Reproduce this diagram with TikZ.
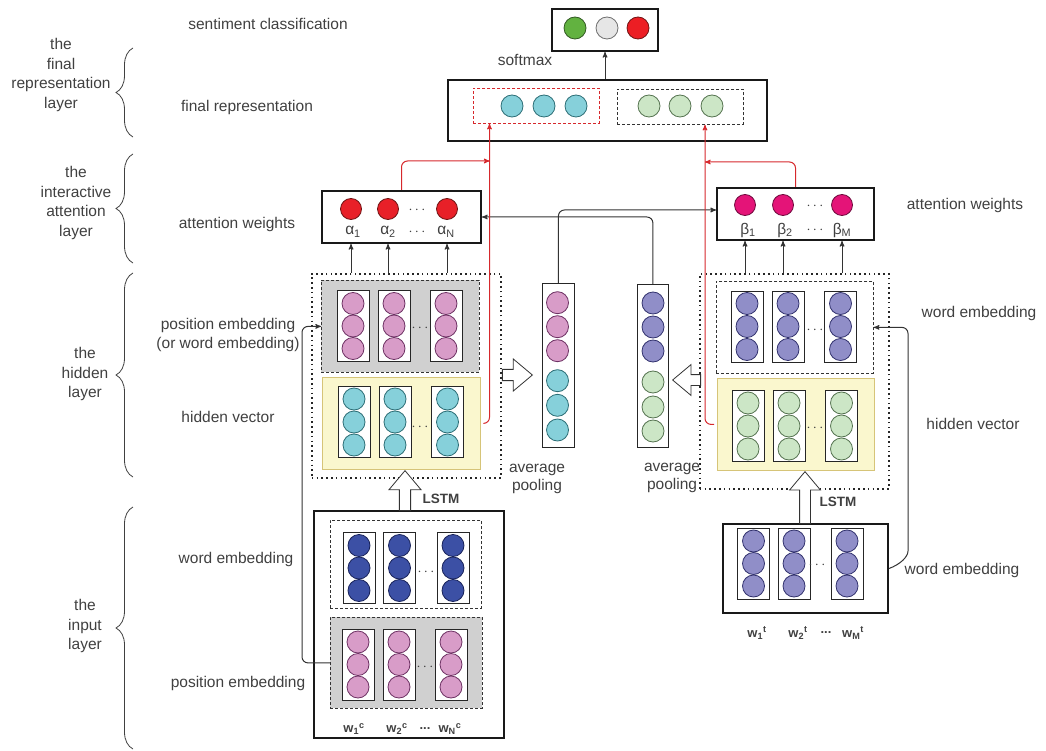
\documentclass[tikz,border=0pt]{standalone}
\usepackage{fontspec}
\setmainfont{Liberation Sans}
\usepackage{xcolor}
\usetikzlibrary{positioning, arrows, shapes.arrows, decorations.pathreplacing}

\definecolor{ink}{RGB}{64,64,64}
\definecolor{posgreen}{RGB}{98,178,64}
\definecolor{posgreenE}{RGB}{50,90,35}
\definecolor{neugray}{RGB}{230,230,230}
\definecolor{neugrayE}{RGB}{110,110,110}
\definecolor{negred}{RGB}{236,30,36}
\definecolor{negredE}{RGB}{110,20,20}
\definecolor{hidcyan}{RGB}{134,208,218}
\definecolor{hidcyanE}{RGB}{45,110,118}
\definecolor{hidgreen}{RGB}{204,230,198}
\definecolor{hidgreenE}{RGB}{85,115,80}
\definecolor{pospink}{RGB}{216,156,200}
\definecolor{pospinkE}{RGB}{110,50,100}
\definecolor{tgtpurple}{RGB}{144,142,200}
\definecolor{tgtpurpleE}{RGB}{50,50,110}
\definecolor{ctxblue}{RGB}{60,80,165}
\definecolor{ctxblueE}{RGB}{25,35,90}
\definecolor{alphared}{RGB}{232,32,40}
\definecolor{alpharedE}{RGB}{110,20,20}
\definecolor{betapink}{RGB}{228,20,120}
\definecolor{betapinkE}{RGB}{110,10,60}
\definecolor{boxgray}{RGB}{208,208,208}
\definecolor{boxyellow}{RGB}{250,247,206}
\definecolor{boxyellowE}{RGB}{214,196,120}
\definecolor{linkred}{RGB}{214,40,44}

\begin{document}
\begin{tikzpicture}[x=1pt,y=-1pt,>=stealth',line width=0.8pt]
       \tikzstyle{every node}=[font=\fontsize{15.5}{18.5}\selectfont,text=ink]
       \tikzstyle{ball}=[circle,draw,minimum size=22pt,inner sep=0pt,line width=0.8pt]
       \tikzstyle{cyanball}=[ball,fill=hidcyan,draw=hidcyanE]
       \tikzstyle{greenball}=[ball,fill=hidgreen,draw=hidgreenE]
       \tikzstyle{pinkball}=[ball,fill=pospink,draw=pospinkE]
       \tikzstyle{purpleball}=[ball,fill=tgtpurple,draw=tgtpurpleE]
       \tikzstyle{blueball}=[ball,fill=ctxblue,draw=ctxblueE]
       \tikzstyle{col}=[draw=black!85,fill=white,minimum width=32pt,minimum height=71pt,inner sep=0pt]
       \tikzstyle{box}=[draw=black!90,line width=2pt,inner sep=0pt,anchor=north west]
       \tikzstyle{dashbox}=[draw=black!80,dash pattern=on 3pt off 2pt,inner sep=0pt,anchor=north west]
       \tikzstyle{dotbox}=[draw=black!85,line width=1.6pt,dash pattern=on 1.6pt off 3.2pt,inner sep=0pt,anchor=north west]
       \tikzstyle{yellowbox}=[draw=boxyellowE,fill=boxyellow,inner sep=0pt,anchor=north west,minimum width=158pt,minimum height=92pt]
       \tikzstyle{hollow}=[single arrow,draw=black!80,fill=white,inner sep=5pt,single arrow head extend=10pt,single arrow tip angle=80,anchor=tip]
       \tikzstyle{link}=[->,draw=black!80,line width=1pt,rounded corners=6pt]
       \tikzstyle{redlink}=[->,draw=linkred,line width=1pt,rounded corners=6pt]
       \tikzstyle{brace}=[draw=black!75,decorate,decoration={brace,amplitude=17pt}]
       \tikzstyle{layer}=[align=center,font=\fontsize{15.5}{19.5}\selectfont]
       \tikzstyle{wlbl}=[font=\fontsize{13}{15}\selectfont\bfseries]
       \tikzstyle{lstm}=[font=\fontsize{13.5}{16}\selectfont\bfseries]

       \useasboundingbox (0,0) rectangle (1046,751);

       \draw[brace] (133,137) -- (133,48);
       \draw[brace] (133,263) -- (133,154);
       \draw[brace] (133,477) -- (133,273);
       \draw[brace] (133,749) -- (133,507);
       \node[layer] (Lfin) at (61,75) {the\\final\\representation\\layer};
       \node[layer] (Latt) at (76,203) {the\\interactive\\attention\\layer};
       \node[layer] (Lhid) at (85,374) {the\\hidden\\layer};
       \node[layer] (Linp) at (85,626) {the\\input\\layer};

       \node (tSent) at (268,24) {sentiment classification};
       \node (tFin)  at (247,107) {final representation};
       \node (tAttL) at (237,224) {attention weights};
       \node (tAttR) at (965,205) {attention weights};
       \node[align=center] (tPosH) at (228,335) {position embedding\\(or word embedding)};
       \node (tHidL) at (228,417) {hidden vector};
       \node (tHidR) at (973,424) {hidden vector};
       \node (tWordL) at (236,559) {word embedding};
       \node (tPosL) at (238,683) {position embedding};
       \node (tWordR) at (979,313) {word embedding};
       \node (tWordT) at (962,570) {word embedding};

       \node[box,minimum width=106pt,minimum height=42pt] (out) at (551,8) {};
       \node[ball,fill=posgreen,draw=posgreenE] (pos) at (575,28) {};
       \node[ball,fill=neugray,draw=neugrayE]   (neu) at (607,28) {};
       \node[ball,fill=negred,draw=negredE]     (neg) at (638,28) {};
       \node (sm) at (525,60) {softmax};

       \node[box,minimum width=319pt,minimum height=61pt] (final) at (447,79) {};
       \node[dashbox,draw=linkred,minimum width=126pt,minimum height=35pt] (repL) at (473,88) {};
       \node[dashbox,minimum width=126pt,minimum height=35pt] (repR) at (617,89) {};
       \foreach \n/\x in {1/512,2/544,3/576} \node[cyanball] (rc\n) at (\x,106) {};
       \foreach \n/\x in {1/649,2/680,3/712} \node[greenball] (rg\n) at (\x,106) {};

       \node[box,minimum width=159pt,minimum height=52pt] (attA) at (321,190) {};
       \node[ball,fill=alphared,draw=alpharedE,minimum size=21pt] (a1) at (351,209) {};
       \node[ball,fill=alphared,draw=alpharedE,minimum size=21pt] (a2) at (388,209) {};
       \node (ad) at (417,210) {$\cdots$};
       \node[ball,fill=alphared,draw=alpharedE,minimum size=21pt] (aN) at (447,209) {};
       \node (la1) at (353,232) {α\textsubscript{1}};
       \node (la2) at (388,232) {α\textsubscript{2}};
       \node (lad) at (417,232) {$\cdots$};
       \node (laN) at (446,232) {α\textsubscript{N}};

       \node[box,minimum width=157pt,minimum height=52pt] (attB) at (716,187) {};
       \node[ball,fill=betapink,draw=betapinkE,minimum size=21pt] (b1) at (745,205) {};
       \node[ball,fill=betapink,draw=betapinkE,minimum size=21pt] (b2) at (783,205) {};
       \node (bd) at (815,206) {$\cdots$};
       \node[ball,fill=betapink,draw=betapinkE,minimum size=21pt] (bM) at (842,205) {};
       \node (lb1) at (748,230) {β\textsubscript{1}};
       \node (lb2) at (785,230) {β\textsubscript{2}};
       \node (lbd) at (815,230) {$\cdots$};
       \node (lbM) at (842,230) {β\textsubscript{M}};

       \node[dotbox,minimum width=189pt,minimum height=204pt] (dotL) at (311,273) {};
       \node[dashbox,fill=boxgray,minimum width=158pt,minimum height=92pt] (embL) at (321,280) {};
       \foreach \n/\x in {1/353,2/394,3/446} {
         \node[col] (ec\n) at (\x,326) {};
         \foreach \k/\yy in {a/303.5,b/326,c/348.5} \node[pinkball] (ec\n\k) at (\x,\yy) {};
       }
       \node (ed) at (420,328) {$\cdots$};
       \node[yellowbox] (hidL) at (322,377) {};
       \foreach \n/\x in {1/354,2/395,3/447.5} {
         \node[col] (hc\n) at (\x,422) {};
         \foreach \k/\yy in {a/399,b/422,c/445} \node[cyanball] (hc\n\k) at (\x,\yy) {};
       }
       \node (hd) at (420,427) {$\cdots$};

       \node[box,minimum width=190pt,minimum height=227pt] (inL) at (313,510) {};
       \node[dashbox,fill=white,minimum width=151pt,minimum height=88pt] (wordIn) at (330,520) {};
       \foreach \n/\x in {1/359,2/399.5,3/453} {
         \node[col] (wc\n) at (\x,568) {};
         \foreach \k/\yy in {a/545.5,b/568,c/590.5} \node[blueball] (wc\n\k) at (\x,\yy) {};
       }
       \node (wd) at (426,572) {$\cdots$};
       \node[dashbox,fill=boxgray,minimum width=152pt,minimum height=91pt] (posIn) at (330,617) {};
       \foreach \n/\x in {1/358,2/399,3/451} {
         \node[col] (pc\n) at (\x,664.5) {};
         \foreach \k/\yy in {a/642,b/664.5,c/687} \node[pinkball] (pc\n\k) at (\x,\yy) {};
       }
       \node (pd) at (425,667) {$\cdots$};
       \node[wlbl] (w1c) at (354,729) {w\textsubscript{1}\textsuperscript{c}};
       \node[wlbl] (w2c) at (397,729) {w\textsubscript{2}\textsuperscript{c}};
       \node[wlbl] (wdc) at (425,729) {...};
       \node[wlbl] (wNc) at (450,729) {w\textsubscript{N}\textsuperscript{c}};

       \node[draw=black!85,fill=white,inner sep=0pt,anchor=north west,minimum width=32pt,minimum height=164pt] (poolA) at (542,283) {};
       \foreach \k/\yy in {a/302.7,b/326.7,c/350.7} \node[pinkball] (pa\k) at (557.5,\yy) {};
       \foreach \k/\yy in {d/380.7,e/405.3,f/430} \node[cyanball] (pa\k) at (557.5,\yy) {};
       \node[draw=black!85,fill=white,inner sep=0pt,anchor=north west,minimum width=31pt,minimum height=163pt] (poolB) at (637,284) {};
       \foreach \k/\yy in {a/303,b/327,c/351} \node[purpleball] (pb\k) at (653,\yy) {};
       \foreach \k/\yy in {d/382,e/407,f/431} \node[greenball] (pb\k) at (653,\yy) {};

       \node[dotbox,minimum width=189pt,minimum height=215pt] (dotR) at (699,273) {};
       \node[dashbox,fill=white,minimum width=157pt,minimum height=92pt] (embR) at (716,281) {};
       \foreach \n/\x in {1/747,2/788,3/840.5} {
         \node[col] (tc\n) at (\x,326.5) {};
         \foreach \k/\yy in {a/303.5,b/326.5,c/349.5} \node[purpleball] (tc\n\k) at (\x,\yy) {};
       }
       \node (td) at (815,330) {$\cdots$};
       \node[yellowbox,minimum width=157pt] (hidR) at (717,378) {};
       \foreach \n/\x in {1/748,2/789,3/841.5} {
         \node[col] (gc\n) at (\x,426) {};
         \foreach \k/\yy in {a/403,b/426,c/449} \node[greenball] (gc\n\k) at (\x,\yy) {};
       }
       \node (gd) at (815,428) {$\cdots$};

       \node[box,minimum width=165pt,minimum height=89pt] (inR) at (722,523) {};
       \foreach \n/\x in {1/753.5,2/794,3/847} {
         \node[col] (ic\n) at (\x,563.5) {};
         \foreach \k/\yy in {a/541,b/563.5,c/586} \node[purpleball] (ic\n\k) at (\x,\yy) {};
       }
       \node (id) at (817,565) {$\cdots$};
       \node[wlbl] (w1t) at (757,633) {w\textsubscript{1}\textsuperscript{t}};
       \node[wlbl] (w2t) at (798,633) {w\textsubscript{2}\textsuperscript{t}};
       \node[wlbl] (wdt) at (826,633) {...};
       \node[wlbl] (wMt) at (853,633) {w\textsubscript{M}\textsuperscript{t}};

       \node[align=center] (tAvgL) at (537,479) {average\\pooling};
       \node[align=center] (tAvgR) at (672,478) {average\\pooling};

       \node[hollow,rotate=90,minimum height=40pt,minimum width=32pt] (lstmL) at (405,470) {};
       \node[hollow,rotate=90,minimum height=52pt,minimum width=30pt] (lstmR) at (805,471) {};
       \node[hollow,minimum height=30pt,minimum width=32pt] (poolArrA) at (533,375) {};
       \node[hollow,rotate=180,minimum height=28pt,minimum width=30pt] (poolArrB) at (672,380) {};
       \node[lstm] (tLstmL) at (441,499) {LSTM};
       \node[lstm] (tLstmR) at (838,502) {LSTM};

       \coordinate (redA) at (489.5,161);
       \coordinate (redB) at (705,162);
       \coordinate (bendR) at (908,545);

       \draw[link] (final.north -| out.south) -- (out.south);
       \draw[link] (a1 |- dotL.north) -- (a1 |- attA.south);
       \draw[link] (a2 |- dotL.north) -- (a2 |- attA.south);
       \draw[link] (aN |- dotL.north) -- (aN |- attA.south);
       \draw[link] (b1 |- dotR.north) -- (b1 |- attB.south);
       \draw[link] (b2 |- dotR.north) -- (b2 |- attB.south);
       \draw[link] (bM |- dotR.north) -- (bM |- attB.south);
       \draw[link] (poolA.north) |- ([yshift=4pt]attB.west);
       \draw[link] (poolB.north) |- (attA.east);
       \draw[link] (posIn.west) -- ++(-28,0) |- (embL.west);
       \draw[link] (inR.east) to[out=20,in=-90] (bendR) |- (embR.east);
       \draw[redlink] ([xshift=3pt]hidL.east) -| (redA |- repL.south);
       \draw[redlink] (attA.north) |- (redA);
       \draw[redlink] ([xshift=-3pt]hidR.west) -| (redB |- repR.south);
       \draw[redlink] (attB.north) |- (redB);
\end{tikzpicture}
\end{document}
